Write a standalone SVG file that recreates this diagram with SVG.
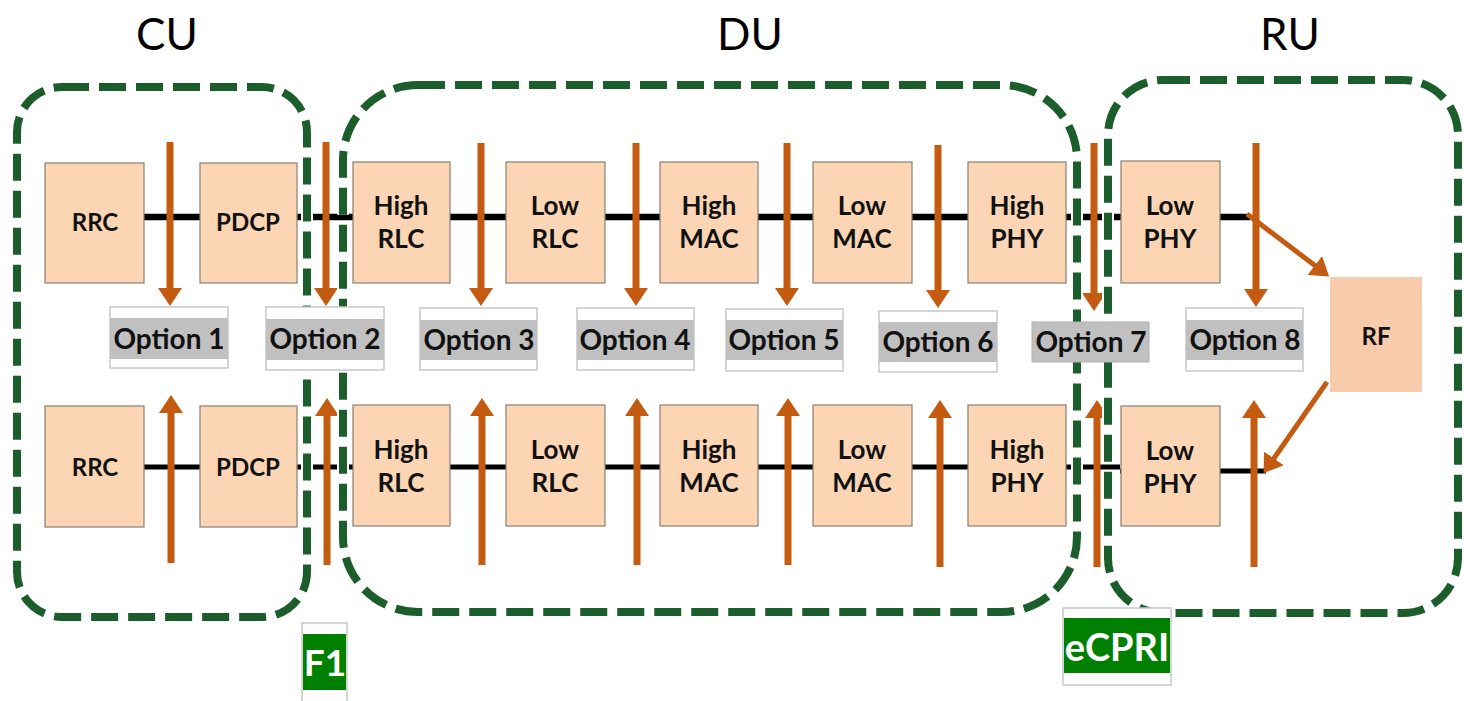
<svg xmlns="http://www.w3.org/2000/svg" width="1464" height="701" viewBox="0 0 1464 701">
  <style>
    .title { font-family: Lato, "Liberation Sans", sans-serif; font-size: 44px; fill: #000; text-anchor: middle; }
    .blk { fill: #FCD6B4; stroke: #8C7D72; stroke-width: 1.2; }
    .lbl { font-family: Lato, "Liberation Sans", sans-serif; font-weight: bold; font-size: 26px; fill: #111; text-anchor: middle; }
    .lbl1 { font-family: Lato, "Liberation Sans", sans-serif; font-weight: bold; font-size: 24px; fill: #111; text-anchor: middle; }
    .bus { stroke: #000; stroke-width: 6.5; fill: none; }
    .bus2 { stroke: #000; stroke-width: 5; fill: none; }
    .arr { stroke: #C55A11; stroke-width: 7; fill: none; marker-end: url(#head); }
    .diag { stroke: #C55A11; stroke-width: 5; fill: none; marker-end: url(#head); }
    .halo { fill: none; stroke: #fff; stroke-width: 12; stroke-dasharray: 27 10; }
    .dash { fill: none; stroke: #1B5E2B; stroke-width: 8; stroke-dasharray: 27 10; }
    .optbox { fill: #fff; stroke: #C8C8C8; stroke-width: 1.5; }
    .band { fill: #C0C0C0; }
    .opt { font-family: Lato, "Liberation Sans", sans-serif; font-weight: bold; font-size: 28px; fill: #111; text-anchor: middle; }
    .ifc { fill: #008000; }
    .ifct { font-family: Lato, "Liberation Sans", sans-serif; font-weight: bold; fill: #fff; text-anchor: middle; }
  </style>
  <defs>
    <marker id="head" viewBox="0 -12 18 24" refX="1" refY="0" markerWidth="18" markerHeight="24" markerUnits="userSpaceOnUse" orient="auto">
      <path d="M0,-12 L18,0 L0,12 Z" fill="#C55A11"/>
    </marker>
  </defs>

  <!-- section titles -->
  <text class="title" x="167" y="50">CU</text>
  <text class="title" x="750" y="50">DU</text>
  <text class="title" x="1290" y="50">RU</text>

  <!-- protocol stack buses -->
  <g id="buses">
    <line class="bus" x1="144" y1="217" x2="1250" y2="217"/>
    <line class="bus2" x1="144" y1="467" x2="1120" y2="467"/>
    <line class="bus2" x1="1120" y1="471" x2="1266" y2="471"/>
  </g>

  <!-- downlink stack -->
  <g id="rrc-dl"><rect class="blk" x="45" y="163" width="99" height="120"/><text class="lbl1" x="95" y="231">RRC</text></g>
  <g id="pdcp-dl"><rect class="blk" x="200" y="163" width="97" height="120"/><text class="lbl1" x="248" y="231">PDCP</text></g>
  <g id="high-rlc-dl"><rect class="blk" x="353" y="162" width="97" height="121"/><text class="lbl" x="401" y="215">High</text><text class="lbl" x="401" y="248">RLC</text></g>
  <g id="low-rlc-dl"><rect class="blk" x="506" y="162" width="99" height="121"/><text class="lbl" x="555" y="215">Low</text><text class="lbl" x="555" y="248">RLC</text></g>
  <g id="high-mac-dl"><rect class="blk" x="660" y="162" width="98" height="121"/><text class="lbl" x="709" y="215">High</text><text class="lbl" x="709" y="248">MAC</text></g>
  <g id="low-mac-dl"><rect class="blk" x="813" y="162" width="99" height="121"/><text class="lbl" x="862" y="215">Low</text><text class="lbl" x="862" y="248">MAC</text></g>
  <g id="high-phy-dl"><rect class="blk" x="968" y="162" width="98" height="121"/><text class="lbl" x="1017" y="215">High</text><text class="lbl" x="1017" y="248">PHY</text></g>
  <g id="low-phy-dl"><rect class="blk" x="1121" y="161" width="99" height="122"/><text class="lbl" x="1170" y="215">Low</text><text class="lbl" x="1170" y="248">PHY</text></g>

  <!-- uplink stack -->
  <g id="rrc-ul"><rect class="blk" x="45" y="406" width="99" height="121"/><text class="lbl1" x="95" y="476">RRC</text></g>
  <g id="pdcp-ul"><rect class="blk" x="200" y="406" width="97" height="121"/><text class="lbl1" x="248" y="476">PDCP</text></g>
  <g id="high-rlc-ul"><rect class="blk" x="353" y="405" width="97" height="121"/><text class="lbl" x="401" y="459">High</text><text class="lbl" x="401" y="492">RLC</text></g>
  <g id="low-rlc-ul"><rect class="blk" x="506" y="405" width="99" height="121"/><text class="lbl" x="555" y="459">Low</text><text class="lbl" x="555" y="492">RLC</text></g>
  <g id="high-mac-ul"><rect class="blk" x="660" y="405" width="98" height="121"/><text class="lbl" x="709" y="459">High</text><text class="lbl" x="709" y="492">MAC</text></g>
  <g id="low-mac-ul"><rect class="blk" x="813" y="405" width="99" height="121"/><text class="lbl" x="862" y="459">Low</text><text class="lbl" x="862" y="492">MAC</text></g>
  <g id="high-phy-ul"><rect class="blk" x="968" y="405" width="98" height="121"/><text class="lbl" x="1017" y="459">High</text><text class="lbl" x="1017" y="492">PHY</text></g>
  <g id="low-phy-ul"><rect class="blk" x="1121" y="406" width="99" height="120"/><text class="lbl" x="1170" y="460">Low</text><text class="lbl" x="1170" y="493">PHY</text></g>

  <g id="rf"><rect x="1330" y="277" width="92" height="115" fill="#F8CBAD"/><text class="lbl1" x="1376" y="345">RF</text></g>

  <!-- split-point arrows -->
  <g id="connectors">
    <line class="arr" x1="170" y1="142" x2="170" y2="289"/>
    <line class="arr" x1="326" y1="142" x2="326" y2="289"/>
    <line class="arr" x1="481" y1="143" x2="481" y2="289"/>
    <line class="arr" x1="636" y1="143" x2="636" y2="289"/>
    <line class="arr" x1="787" y1="143" x2="787" y2="289"/>
    <line class="arr" x1="938" y1="145" x2="938" y2="291"/>
    <line class="arr" x1="1094" y1="143" x2="1094" y2="294"/>
    <line class="arr" x1="1256" y1="143" x2="1256" y2="290"/>

    <line class="arr" x1="171" y1="563" x2="171" y2="412"/>
    <line class="arr" x1="327" y1="565" x2="327" y2="415"/>
    <line class="arr" x1="482" y1="565" x2="482" y2="415"/>
    <line class="arr" x1="637" y1="565" x2="637" y2="415"/>
    <line class="arr" x1="788" y1="565" x2="788" y2="415"/>
    <line class="arr" x1="940" y1="567" x2="940" y2="417"/>
    <line class="arr" x1="1097" y1="567" x2="1097" y2="417"/>
    <line class="arr" x1="1254" y1="567" x2="1254" y2="417"/>

    <line class="diag" x1="1247" y1="214" x2="1315.6" y2="266.1"/>
    <line class="diag" x1="1327" y1="382" x2="1273.3" y2="459.2"/>
  </g>

  <!-- CU / DU / RU boundaries -->
  <g id="cu-boundary">
    <rect class="halo" x="17" y="87" width="290" height="530" rx="45"/>
    <rect class="dash" x="17" y="87" width="290" height="530" rx="45"/>
  </g>
  <g id="du-boundary">
    <rect class="halo" x="343" y="85" width="734" height="527" rx="75"/>
    <rect class="dash" x="343" y="85" width="734" height="527" rx="75"/>
  </g>
  <g id="ru-boundary">
    <rect class="halo" x="1108" y="80" width="350" height="533" rx="55"/>
    <rect class="dash" x="1108" y="80" width="350" height="533" rx="55"/>
  </g>

  <!-- split options -->
  <g id="option-1"><rect class="optbox" x="110" y="307" width="118" height="61"/><rect class="band" x="110" y="318" width="118" height="41"/><text class="opt" x="169" y="349">Option 1</text></g>
  <g id="option-2"><rect class="optbox" x="266" y="307" width="118" height="63"/><rect class="band" x="266" y="319" width="118" height="41"/><text class="opt" x="325" y="349">Option 2</text></g>
  <g id="option-3"><rect class="optbox" x="420" y="308" width="117" height="62"/><rect class="band" x="420" y="320" width="117" height="40"/><text class="opt" x="479" y="350">Option 3</text></g>
  <g id="option-4"><rect class="optbox" x="577" y="308" width="117" height="62"/><rect class="band" x="577" y="320" width="117" height="40"/><text class="opt" x="635" y="350">Option 4</text></g>
  <g id="option-5"><rect class="optbox" x="726" y="309" width="117" height="62"/><rect class="band" x="726" y="320" width="117" height="40"/><text class="opt" x="784" y="350">Option 5</text></g>
  <g id="option-6"><rect class="optbox" x="879" y="311" width="118" height="61"/><rect class="band" x="879" y="322" width="118" height="40"/><text class="opt" x="938" y="352">Option 6</text></g>
  <g id="option-7"><rect x="1032" y="322" width="117" height="40" fill="#C0C0C0" stroke="#B0B0B0" stroke-width="1"/><text class="opt" x="1091" y="352">Option 7</text></g>
  <g id="option-8"><rect class="optbox" x="1186" y="308" width="117" height="63"/><rect class="band" x="1186" y="320" width="117" height="40"/><text class="opt" x="1245" y="350">Option 8</text></g>

  <!-- interface labels -->
  <g id="f1"><rect class="optbox" x="302" y="623" width="45" height="80"/><rect class="ifc" x="303" y="634" width="43" height="56"/><text class="ifct" x="325" y="676" font-size="37">F1</text></g>
  <g id="ecpri"><rect class="optbox" x="1063" y="608" width="108" height="77"/><rect class="ifc" x="1064" y="618" width="106" height="55"/><text class="ifct" x="1117" y="661" font-size="38">eCPRI</text></g>
</svg>
